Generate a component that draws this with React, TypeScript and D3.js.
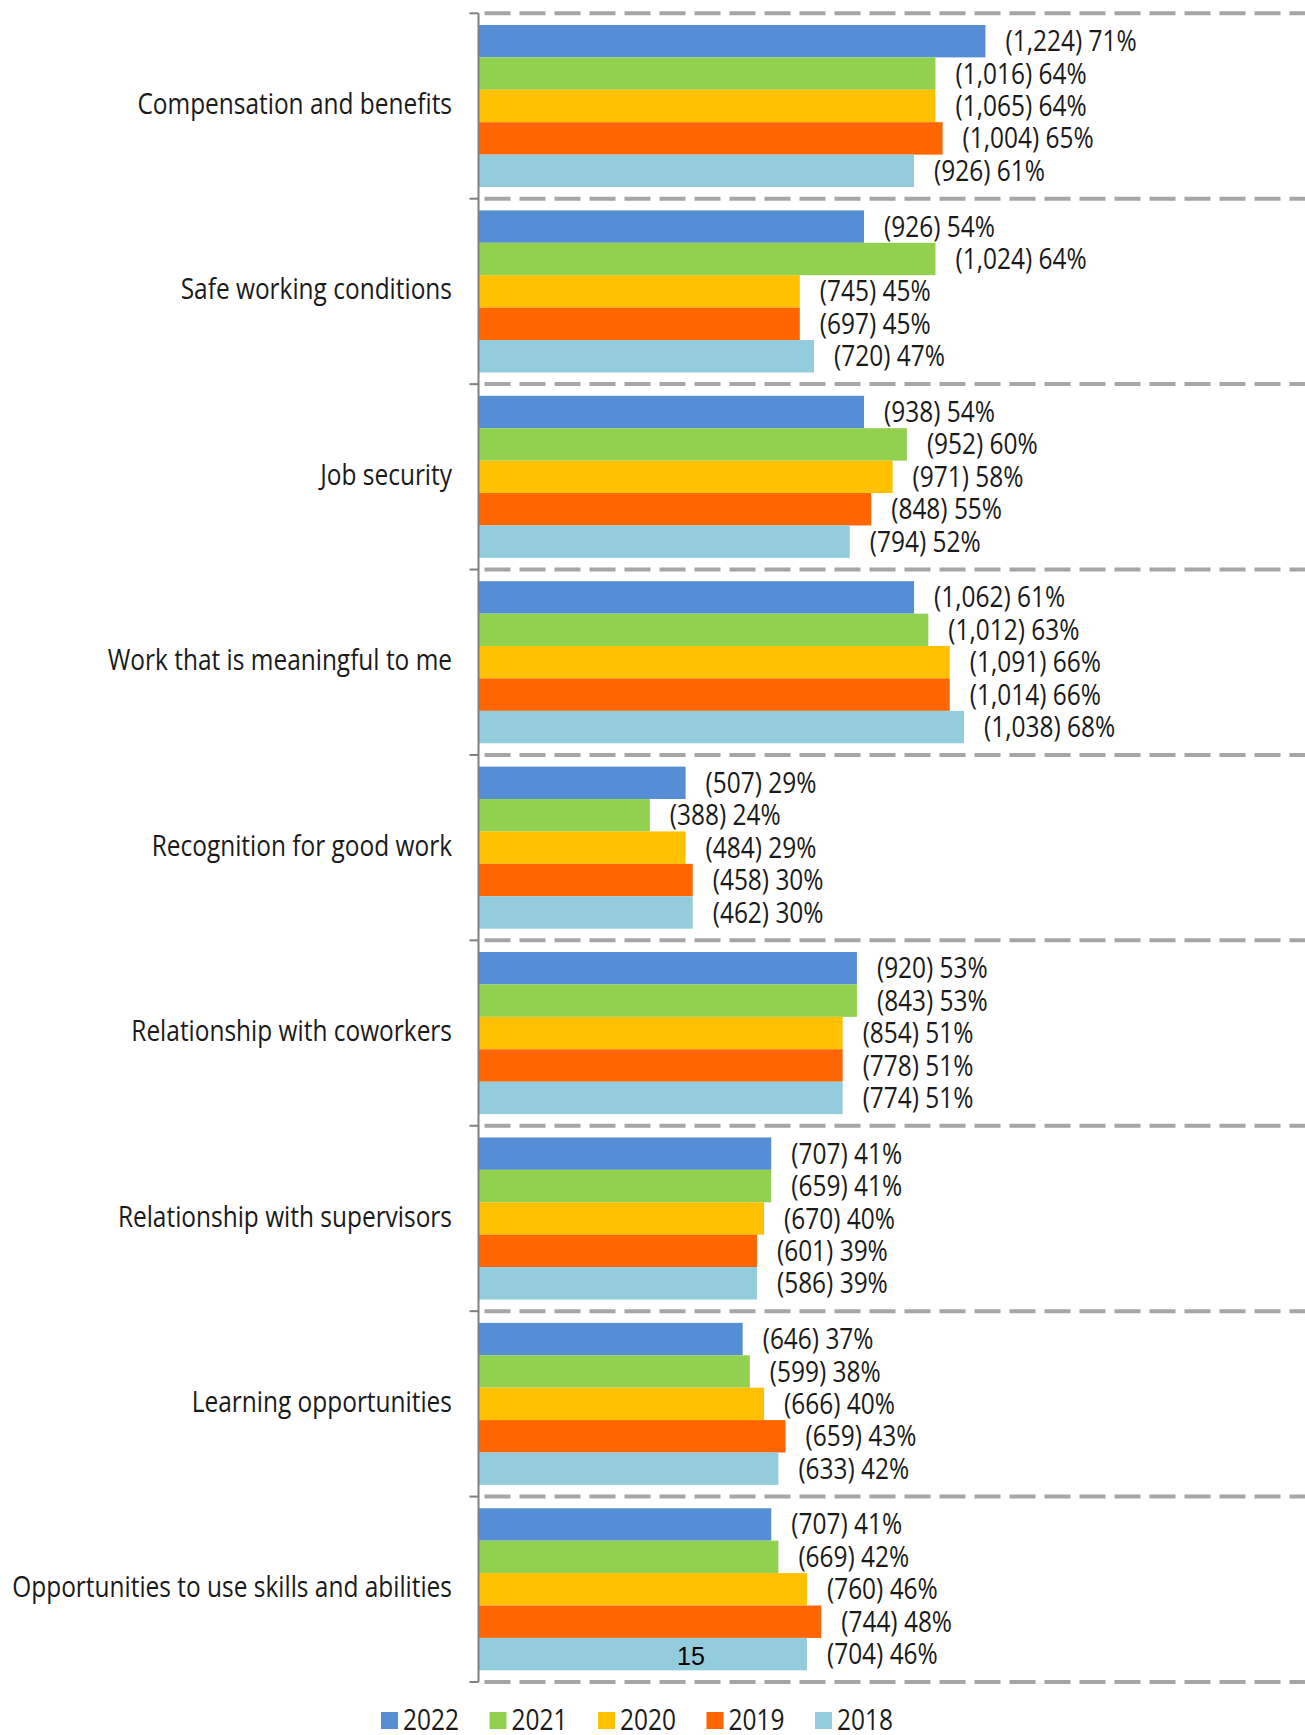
import React from 'react';
import * as d3 from 'd3';

// Categories top to bottom
const categories = [
  'Compensation and benefits',
  'Safe working conditions',
  'Job security',
  'Work that is meaningful to me',
  'Recognition for good work',
  'Relationship with coworkers',
  'Relationship with supervisors',
  'Learning opportunities',
  'Opportunities to use skills and abilities',
];

const years = ['2022', '2021', '2020', '2019', '2018'];
const colors = ['#558ed5', '#92d050', '#ffc000', '#ff6600', '#93cddd'];

// percentage per year, same order as categories
const pct2022 = [71, 54, 54, 61, 29, 53, 41, 37, 41];
const pct2021 = [64, 64, 60, 63, 24, 53, 41, 38, 42];
const pct2020 = [64, 45, 58, 66, 29, 51, 40, 40, 46];
const pct2019 = [65, 45, 55, 66, 30, 51, 39, 43, 48];
const pct2018 = [61, 47, 52, 68, 30, 51, 39, 42, 46];

// respondent counts
const n2022 = [1224, 926, 938, 1062, 507, 920, 707, 646, 707];
const n2021 = [1016, 1024, 952, 1012, 388, 843, 659, 599, 669];
const n2020 = [1065, 745, 971, 1091, 484, 854, 670, 666, 760];
const n2019 = [1004, 697, 848, 1014, 458, 778, 601, 659, 744];
const n2018 = [926, 720, 794, 1038, 462, 774, 586, 633, 704];

const pcts = [pct2022, pct2021, pct2020, pct2019, pct2018];
const counts = [n2022, n2021, n2020, n2019, n2018];

const W = 1305;
const H = 1735;
const font = '"Open Sans", "Noto Sans", sans-serif';
const squeeze = 0.815; // the source font is narrow, squeeze glyphs horizontally

// text drawn with a horizontal squeeze around its anchor point
const Squeezed: React.FC<{
  x: number;
  y: number;
  size: number;
  anchor?: 'start' | 'end';
  children: React.ReactNode;
}> = ({ x, y, size, anchor = 'start', children }) => (
  <g transform={`translate(${x},${y}) scale(${squeeze},1)`}>
    <text x={0} y={0} textAnchor={anchor} dominantBaseline="middle" fontSize={size} fill="#1a1a1a">
      {children}
    </text>
  </g>
);

const App: React.FC = () => {
  const axisX = 478.5;
  const top = 13.3;
  const bottom = 1682;

  const y = d3.scaleBand<string>().domain(categories).range([top, bottom]).padding(0);
  const yInner = d3
    .scaleBand<string>()
    .domain(years)
    .range([0, y.bandwidth()])
    .paddingInner(0)
    .paddingOuter(0.36);
  // 0..100% -> pixels
  const x = d3.scaleLinear().domain([0, 100]).range([axisX, axisX + 714]);
  const fmt = d3.format(',');

  const boundaries = d3.range(categories.length + 1).map((i) => top + i * y.step());

  return (
    <svg
      width={W}
      height={H}
      style={{ position: 'absolute', left: 0, top: 0, background: '#fff' }}
      fontFamily={font}
    >
      {/* dashed separators */}
      {boundaries.map((b, i) => (
        <line
          key={'g' + i}
          x1={axisX + 6}
          x2={W}
          y1={b}
          y2={b}
          stroke="#a6a6a6"
          strokeWidth={4}
          strokeDasharray="26 9"
        />
      ))}

      {/* bars */}
      {categories.map((c, ci) => (
        <g key={c} transform={`translate(0,${y(c)})`}>
          {years.map((yr, yi) => (
            <rect
              key={yr}
              x={x(0)}
              y={yInner(yr)}
              width={x(pcts[yi][ci]) - x(0)}
              height={yInner.bandwidth()}
              fill={colors[yi]}
            />
          ))}
          {years.map((yr, yi) => (
            <Squeezed
              key={'l' + yr}
              x={x(pcts[yi][ci]) + 20}
              y={(yInner(yr) as number) + yInner.bandwidth() / 2 + 2}
              size={30}
            >
              {`(${fmt(counts[yi][ci])}) ${pcts[yi][ci]}%`}
            </Squeezed>
          ))}
          <Squeezed x={452} y={y.bandwidth() / 2} size={30} anchor="end">
            {c}
          </Squeezed>
        </g>
      ))}

      {/* vertical axis with ticks */}
      <line x1={axisX} x2={axisX} y1={top} y2={bottom} stroke="#808080" strokeWidth={2} />
      {boundaries.map((b, i) => (
        <line key={'t' + i} x1={axisX - 9} x2={axisX} y1={b} y2={b} stroke="#808080" strokeWidth={2} />
      ))}

      {/* page number */}
      <text x={677} y={1665} fontFamily="Liberation Sans, Arial, sans-serif" fontSize={25} fill="#000">
        15
      </text>

      {/* legend */}
      {years.map((yr, i) => (
        <g key={'lg' + yr} transform={`translate(${381 + i * 108.5},1712)`}>
          <rect x={0} y={0} width={17} height={17} fill={colors[i]} />
          <Squeezed x={22} y={10} size={30}>
            {yr}
          </Squeezed>
        </g>
      ))}
    </svg>
  );
};

export default App;
